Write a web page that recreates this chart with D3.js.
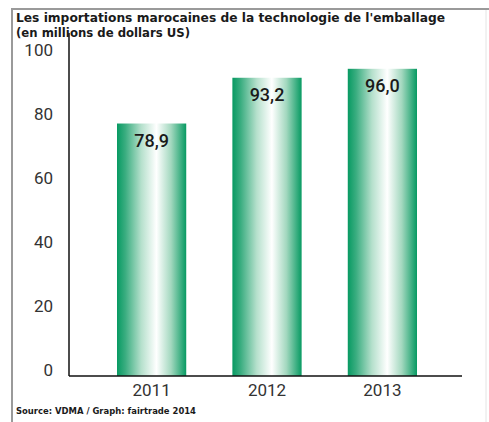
<!DOCTYPE html>
<html>
<head>
<meta charset="utf-8">
<script src="https://cdn.jsdelivr.net/npm/d3@7"></script>
<style>
  body { margin: 0; background: #fff; }
  svg { display: block; }
</style>
</head>
<body>
<svg id="chart" width="489" height="422"></svg>
<script>
// data
var years = ['2011', '2012', '2013'];
var imports = [78.9, 93.2, 96.0];
var yTicks = [0, 20, 40, 60, 80, 100];

var svg = d3.select('#chart');

// frame of the original graphic
svg.append('path')
  .attr('d', 'M12,422 L12,9 L489,9')
  .attr('fill', 'none')
  .attr('stroke', '#9a9a9a')
  .attr('stroke-width', 2);
svg.append('line')
  .attr('x1', 486).attr('x2', 486)
  .attr('y1', 10).attr('y2', 422)
  .attr('stroke', '#e4e4e4');

var defs = svg.append('defs');
var grad = defs.append('linearGradient')
  .attr('id', 'barGrad')
  .attr('x1', '0%').attr('x2', '100%')
  .attr('y1', '0%').attr('y2', '0%');
grad.append('stop').attr('offset', '0%').attr('stop-color', '#079a62');
grad.append('stop').attr('offset', '12%').attr('stop-color', '#3aad80');
grad.append('stop').attr('offset', '35%').attr('stop-color', '#b5e0cc');
grad.append('stop').attr('offset', '57%').attr('stop-color', '#ffffff');
grad.append('stop').attr('offset', '78%').attr('stop-color', '#a3d8bf');
grad.append('stop').attr('offset', '100%').attr('stop-color', '#079a62');

var x = d3.scaleBand()
  .domain(years)
  .range([72, 462])
  .paddingInner(0.4)
  .paddingOuter(0.39);

var y = d3.scaleLinear()
  .domain([0, 100])
  .range([376, 56]);

var data = years.map(function (d, i) { return { year: d, value: imports[i] }; });

// bars
svg.selectAll('.bar')
  .data(data)
  .enter().append('rect')
  .attr('class', 'bar')
  .attr('x', d => x(d.year))
  .attr('width', x.bandwidth())
  .attr('y', d => y(d.value))
  .attr('height', d => y(0) - y(d.value))
  .attr('fill', 'url(#barGrad)');

// value labels inside bars
svg.selectAll('.val')
  .data(data)
  .enter().append('text')
  .attr('class', 'val')
  .attr('x', d => x(d.year) + x.bandwidth() / 2)
  .attr('y', d => y(d.value) + 23)
  .attr('text-anchor', 'middle')
  .style('font-family', 'Roboto, sans-serif')
  .style('font-size', '18px')
  .style('font-weight', 500)
  .style('fill', '#1a1a1a')
  .text(d => d.value.toFixed(1).replace('.', ','));

// y axis
var yAxis = d3.axisLeft(y).tickValues(yTicks).tickSize(0).tickPadding(16);
var yAxisG = svg.append('g')
  .attr('transform', 'translate(69,0)')
  .call(yAxis);
yAxisG.select('.domain').remove();
yAxisG.selectAll('text')
  .attr('dy', '-0.05em')
  .style('font-family', 'Roboto, sans-serif')
  .style('font-size', '17px')
  .style('fill', '#333');

svg.append('line')
  .attr('x1', 69).attr('x2', 69)
  .attr('y1', 33).attr('y2', y(0))
  .attr('stroke', '#111')
  .attr('stroke-width', 1.5);

// x axis
var xAxis = d3.axisBottom(x).tickSize(0).tickPadding(8);
var xAxisG = svg.append('g')
  .attr('transform', 'translate(0,' + y(0) + ')')
  .call(xAxis);
xAxisG.select('.domain').remove();
xAxisG.selectAll('text')
  .style('font-family', 'Roboto, sans-serif')
  .style('font-size', '17px')
  .style('fill', '#333');

svg.append('line')
  .attr('x1', 69).attr('x2', 462)
  .attr('y1', y(0)).attr('y2', y(0))
  .attr('stroke', '#111')
  .attr('stroke-width', 1.5);

// title and source
svg.append('text')
  .attr('x', 16).attr('y', 22)
  .attr('textLength', 429)
  .attr('lengthAdjust', 'spacingAndGlyphs')
  .style('font-family', '"DejaVu Sans", sans-serif')
  .style('font-size', '13px')
  .style('font-weight', 'bold')
  .style('fill', '#1a1a1a')
  .text("Les importations marocaines de la technologie de l'emballage");
svg.append('text')
  .attr('x', 16).attr('y', 37)
  .attr('textLength', 174)
  .attr('lengthAdjust', 'spacingAndGlyphs')
  .style('font-family', '"DejaVu Sans", sans-serif')
  .style('font-size', '13px')
  .style('font-weight', 'bold')
  .style('fill', '#1a1a1a')
  .text('(en millions de dollars US)');

svg.append('text')
  .attr('x', 16).attr('y', 414)
  .attr('textLength', 180)
  .attr('lengthAdjust', 'spacingAndGlyphs')
  .style('font-family', '"DejaVu Sans", sans-serif')
  .style('font-size', '9px')
  .style('font-weight', 'bold')
  .style('fill', '#1a1a1a')
  .text('Source: VDMA / Graph: fairtrade 2014');
</script>
</body>
</html>
